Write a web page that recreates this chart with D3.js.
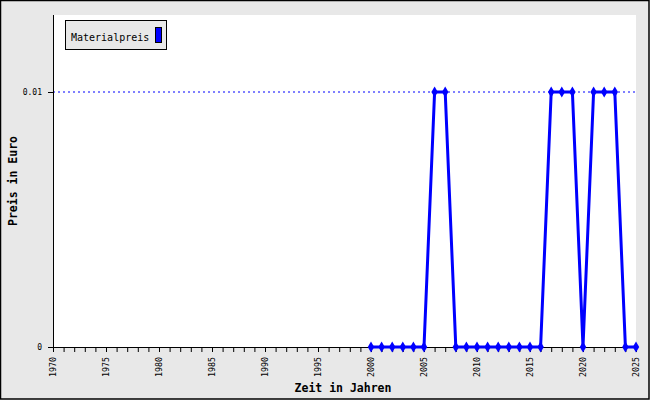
<!DOCTYPE html>
<html><head><meta charset="utf-8">
<script src="https://cdn.jsdelivr.net/npm/d3@7"></script>
<style>body{margin:0;} svg{display:block;}</style>
</head><body>
<svg id="c" width="650" height="400"></svg>
<script>
const years = [2000,2001,2002,2003,2004,2005,2006,2007,2008,2009,2010,2011,2012,2013,2014,2015,2016,2017,2018,2019,2020,2021,2022,2023,2024,2025];
const prices = [0,0,0,0,0,0,0.01,0.01,0,0,0,0,0,0,0,0,0,0.01,0.01,0.01,0,0.01,0.01,0.01,0,0];
const xTickLabels = [1970,1975,1980,1985,1990,1995,2000,2005,2010,2015,2020,2025];
const yTickValues = [0, 0.01];
const seriesName = "Materialpreis";

const svg = d3.select("#c");
const W = 650, H = 400;
const L = 53, R = 636, T = 15, B = 347;
const font = "'DejaVu Sans Mono', 'Liberation Mono', monospace";

svg.append("rect").attr("x",0.5).attr("y",0.5).attr("width",W-1.5).attr("height",H-1.5)
  .attr("fill","#e8e8e8").attr("stroke","#000").attr("stroke-width",1.5);
svg.append("rect").attr("x",L).attr("y",T).attr("width",R-L).attr("height",B-T).attr("fill","#fff");

const x = d3.scaleLinear().domain([1970,2025]).range([L,R]);
const y = d3.scaleLinear().domain([0,0.01]).range([B,92]);

// grid
svg.append("g").selectAll("line").data(yTickValues.filter(v=>v>0)).join("line")
  .attr("x1",L).attr("x2",R).attr("y1",d=>y(d)).attr("y2",d=>y(d))
  .attr("stroke","#0000ff").attr("stroke-width",1).attr("stroke-dasharray","2,3");

// x axis
const xAxis = d3.axisBottom(x).tickValues(d3.range(1970,2026)).tickSize(5).tickFormat(d=>xTickLabels.includes(d)?d:"");
const gx = svg.append("g").attr("transform",`translate(0,${B})`).call(xAxis);
gx.select(".domain").attr("d",`M${L-5},0.5H${R}`).attr("stroke","#000");
gx.selectAll(".tick line").attr("stroke","#000");
gx.selectAll(".tick text").attr("font-family",font).attr("font-size",8.3).attr("fill","#000")
  .attr("transform","rotate(-90)").attr("text-anchor","end").attr("dy","0.35em")
  .attr("x",-10).attr("y",0);

// y axis
const yAxis = d3.axisLeft(y).tickValues(yTickValues).tickSize(5).tickFormat(d=>d===0?"0":d3.format(".2f")(d));
const gy = svg.append("g").attr("transform",`translate(${L},0)`).call(yAxis);
gy.select(".domain").attr("d",`M0.5,${T}V${B}`).attr("stroke","#000");
gy.selectAll(".tick line").attr("stroke","#000");
gy.selectAll(".tick text").attr("font-family",font).attr("font-size",8).attr("fill","#000").attr("x",-11);

// line
const data = years.map((yr,i)=>({yr, v:prices[i]}));
svg.append("path").datum(data)
  .attr("d",d3.line().x(d=>x(d.yr)).y(d=>y(d.v)))
  .attr("fill","none").attr("stroke","#0000ff").attr("stroke-width",3).attr("stroke-linejoin","miter");
svg.append("g").selectAll("path").data(data).join("path")
  .attr("transform",d=>`translate(${x(d.yr)},${y(d.v)})`)
  .attr("d",d3.symbol().type(d3.symbolDiamond).size(36))
  .attr("fill","#0000ff");

// titles
svg.append("text").attr("x",343).attr("y",392).attr("text-anchor","middle")
  .attr("font-family",font).attr("font-size",11.5).attr("font-weight","bold").text("Zeit in Jahren");
svg.append("text").attr("transform","translate(17,181) rotate(-90)").attr("text-anchor","middle")
  .attr("font-family",font).attr("font-size",11.5).attr("font-weight","bold").text("Preis in Euro");

// legend
svg.append("rect").attr("x",65.5).attr("y",20.5).attr("width",101).attr("height",29)
  .attr("fill","#e8e8e8").attr("stroke","#000");
svg.append("text").attr("x",71).attr("y",41).attr("font-family",font).attr("font-size",10).text(seriesName);
svg.append("rect").attr("x",155.5).attr("y",27.5).attr("width",6).attr("height",15)
  .attr("fill","#0000ff").attr("stroke","#000");
</script>
</body></html>
